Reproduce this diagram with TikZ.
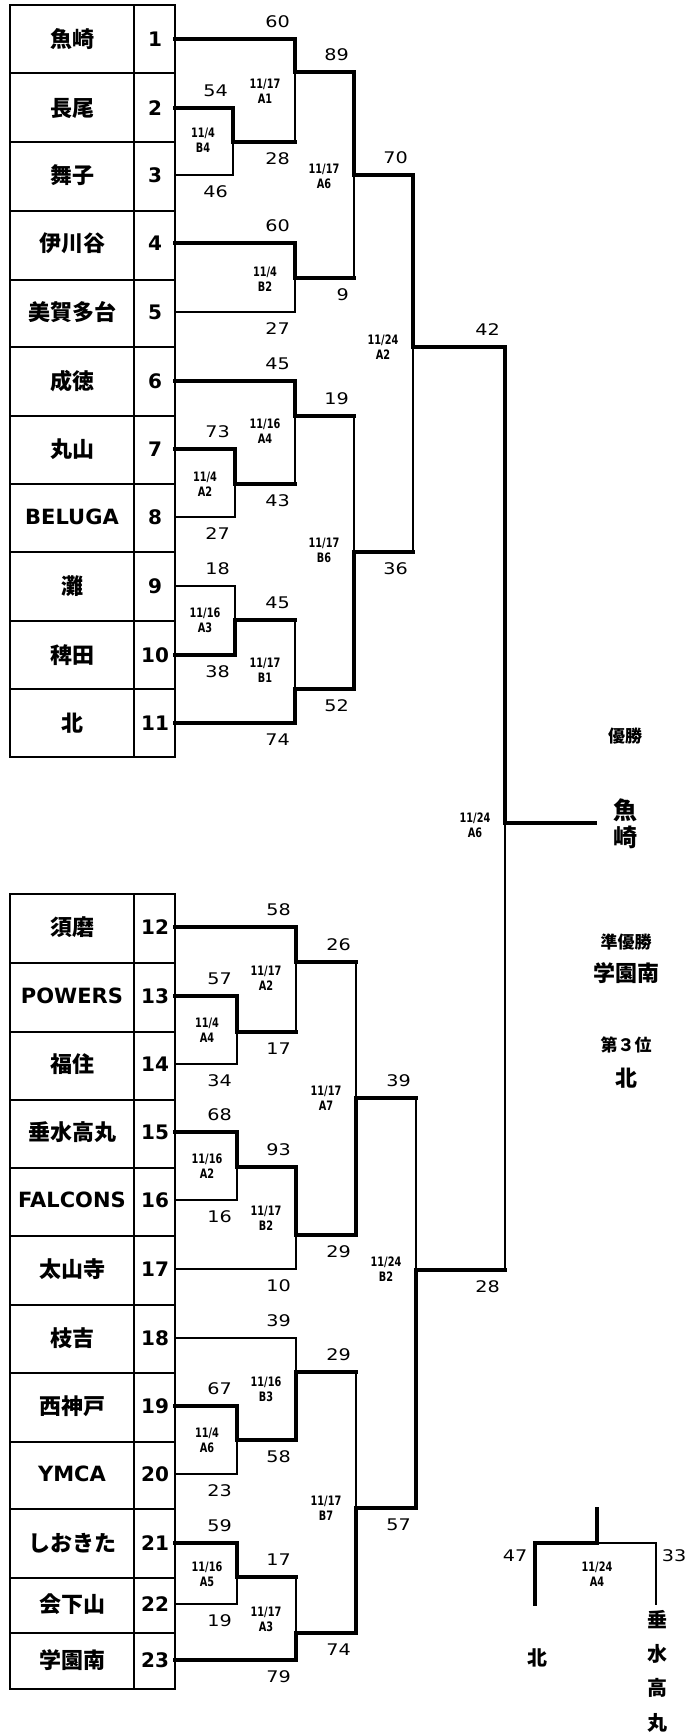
\documentclass[tikz,border=0pt]{standalone}
\usepackage{fontspec}
\usetikzlibrary{calc}
\setmainfont{DejaVu Sans}
\newfontfamily\jp{Noto Sans CJK JP}
\newfontfamily\dv{DejaVu Sans}
\newfontfamily\scorefont{DejaVu Sans}[FakeStretch=1.2]
\newfontfamily\lblfont{DejaVu Sans}[FakeStretch=0.75]
\newcommand\leg[4]{\draw[#3] (#1) -- (#1 -| #2); \draw[#4] (#1 -| #2) -- (#2);}
\newcommand\scoreT[3]{\node[score] (st-#2) at ($(#1 -| #2)+(-5,-17)$) {#3};}
\newcommand\scoreB[3]{\node[score] (sb-#2) at ($(#1 -| #2)+(-5,17)$) {#3};}
\newcommand\mlabel[4]{\node[lbl] (lb-#1) at ($(#1)+(-30,#2)$) {#3\\#4};}
\begin{document}
\begin{tikzpicture}[x=1pt,y=-1pt,
  win/.style={line width=4pt, line cap=rect},
  lose/.style={line width=1.4pt, line cap=rect},
  grid/.style={line width=1.8pt},
  score/.style={font=\scorefont\fontsize{16}{16}\selectfont, anchor=east, inner sep=0pt},
  lbl/.style={font=\lblfont\bfseries\fontsize{13}{15}\selectfont, align=center, inner sep=0pt},
  tname/.style={font=\jp\bfseries\fontsize{22}{22}\selectfont, inner sep=0pt},
  lname/.style={font=\dv\bfseries\fontsize{21}{21}\selectfont, inner sep=0pt},
  tnum/.style={font=\dv\bfseries\fontsize{20}{20}\selectfont, inner sep=0pt},
  rsmall/.style={font=\jp\bfseries\fontsize{17}{17}\selectfont, inner sep=0pt},
  rbig/.style={font=\jp\bfseries\fontsize{22}{22}\selectfont, inner sep=0pt, align=center},
]
\fill[white] (0,0) rectangle (691,1733);
\useasboundingbox (0,0) rectangle (691,1733);

% ---------- tables ----------
\draw[grid] (10,5) rectangle (175,757);
\draw[grid] (134,5) -- (134,757);
\foreach \y in {73,142,211,280,347,416,484,552,621,689} \draw[grid] (10,\y) -- (175,\y);
\draw[grid] (10,894) rectangle (175,1689);
\draw[grid] (134,894) -- (134,1689);
\foreach \y in {963,1032,1100,1168,1236,1305,1373,1442,1509,1578,1633} \draw[grid] (10,\y) -- (175,\y);

\foreach \i/\y/\nm/\st in {1/39/魚崎/tname, 2/108/長尾/tname, 3/175/舞子/tname, 4/243/伊川谷/tname,
  5/312/美賀多台/tname, 6/381/成徳/tname, 7/449/丸山/tname, 8/517/BELUGA/lname, 9/586/灘/tname,
  10/655/稗田/tname, 11/723/北/tname, 12/927/須磨/tname, 13/996/POWERS/lname, 14/1064/福住/tname,
  15/1132/垂水高丸/tname, 16/1200/FALCONS/lname, 17/1269/太山寺/tname, 18/1338/枝吉/tname,
  19/1406/西神戸/tname, 20/1474/YMCA/lname, 21/1543/しおきた/tname, 22/1604/会下山/tname, 23/1660/学園南/tname}
{
  \node[\st] (n\i) at (72,\y) {\nm};
  \node[tnum] (k\i) at (155,\y) {\i};
  \coordinate (t\i) at (175,\y);
}

% ---------- upper half ----------
\coordinate (B4) at (233,142);
\leg{t2}{B4}{win}{win} \leg{t3}{B4}{lose}{lose}
\scoreT{t2}{B4}{54} \scoreB{t3}{B4}{46} \mlabel{B4}{-2}{11/4}{B4}

\coordinate (A1) at (295,72);
\leg{t1}{A1}{win}{win} \leg{B4}{A1}{win}{lose}
\scoreT{t1}{A1}{60} \scoreB{B4}{A1}{28} \mlabel{A1}{19}{11/17}{A1}

\coordinate (B2) at (295,278);
\leg{t4}{B2}{win}{win} \leg{t5}{B2}{lose}{lose}
\scoreT{t4}{B2}{60} \scoreB{t5}{B2}{27} \mlabel{B2}{1}{11/4}{B2}

\coordinate (A6) at (354,175);
\leg{A1}{A6}{win}{win} \leg{B2}{A6}{win}{lose}
\scoreT{A1}{A6}{89} \scoreB{B2}{A6}{9} \mlabel{A6}{1}{11/17}{A6}

\coordinate (A2a) at (235,484);
\leg{t7}{A2a}{win}{win} \leg{t8}{A2a}{lose}{lose}
\scoreT{t7}{A2a}{73} \scoreB{t8}{A2a}{27} \mlabel{A2a}{0}{11/4}{A2}

\coordinate (A4) at (295,416);
\leg{t6}{A4}{win}{win} \leg{A2a}{A4}{win}{lose}
\scoreT{t6}{A4}{45} \scoreB{A2a}{A4}{43} \mlabel{A4}{15}{11/16}{A4}

\coordinate (A3) at (235,620);
\leg{t9}{A3}{lose}{lose} \leg{t10}{A3}{win}{win}
\scoreT{t9}{A3}{18} \scoreB{t10}{A3}{38} \mlabel{A3}{0}{11/16}{A3}

\coordinate (B1) at (295,689);
\leg{A3}{B1}{win}{lose} \leg{t11}{B1}{win}{win}
\scoreT{A3}{B1}{45} \scoreB{t11}{B1}{74} \mlabel{B1}{-19}{11/17}{B1}

\coordinate (B6) at (354,552);
\leg{A4}{B6}{win}{lose} \leg{B1}{B6}{win}{win}
\scoreT{A4}{B6}{19} \scoreB{B1}{B6}{52} \mlabel{B6}{-2}{11/17}{B6}

\coordinate (A2b) at (413,347);
\leg{A6}{A2b}{win}{win} \leg{B6}{A2b}{win}{lose}
\scoreT{A6}{A2b}{70} \scoreB{B6}{A2b}{36} \mlabel{A2b}{0}{11/24}{A2}

% ---------- lower half ----------
\coordinate (A4b) at (237,1032);
\leg{t13}{A4b}{win}{win} \leg{t14}{A4b}{lose}{lose}
\scoreT{t13}{A4b}{57} \scoreB{t14}{A4b}{34} \mlabel{A4b}{-2}{11/4}{A4}

\coordinate (A2c) at (296,962);
\leg{t12}{A2c}{win}{win} \leg{A4b}{A2c}{win}{lose}
\scoreT{t12}{A2c}{58} \scoreB{A4b}{A2c}{17} \mlabel{A2c}{16}{11/17}{A2}

\coordinate (A2d) at (237,1167);
\leg{t15}{A2d}{win}{win} \leg{t16}{A2d}{lose}{lose}
\scoreT{t15}{A2d}{68} \scoreB{t16}{A2d}{16} \mlabel{A2d}{-1}{11/16}{A2}

\coordinate (B2c) at (296,1235);
\leg{A2d}{B2c}{win}{win} \leg{t17}{B2c}{lose}{lose}
\scoreT{A2d}{B2c}{93} \scoreB{t17}{B2c}{10} \mlabel{B2c}{-17}{11/17}{B2}

\coordinate (A7) at (356,1098);
\leg{A2c}{A7}{win}{lose} \leg{B2c}{A7}{win}{win}
\scoreT{A2c}{A7}{26} \scoreB{B2c}{A7}{29} \mlabel{A7}{0}{11/17}{A7}

\coordinate (A6b) at (237,1440);
\leg{t19}{A6b}{win}{win} \leg{t20}{A6b}{lose}{lose}
\scoreT{t19}{A6b}{67} \scoreB{t20}{A6b}{23} \mlabel{A6b}{0}{11/4}{A6}

\coordinate (B3) at (296,1372);
\leg{t18}{B3}{lose}{lose} \leg{A6b}{B3}{win}{win}
\scoreT{t18}{B3}{39} \scoreB{A6b}{B3}{58} \mlabel{B3}{17}{11/16}{B3}

\coordinate (A5) at (237,1577);
\leg{t21}{A5}{win}{win} \leg{t22}{A5}{lose}{lose}
\scoreT{t21}{A5}{59} \scoreB{t22}{A5}{19} \mlabel{A5}{-3}{11/16}{A5}

\coordinate (A3b) at (296,1633);
\leg{A5}{A3b}{win}{lose} \leg{t23}{A3b}{win}{win}
\scoreT{A5}{A3b}{17} \scoreB{t23}{A3b}{79} \mlabel{A3b}{-14}{11/17}{A3}

\coordinate (B7) at (356,1508);
\leg{B3}{B7}{win}{lose} \leg{A3b}{B7}{win}{win}
\scoreT{B3}{B7}{29} \scoreB{A3b}{B7}{74} \mlabel{B7}{0}{11/17}{B7}

\coordinate (B2d) at (416,1270);
\leg{A7}{B2d}{win}{lose} \leg{B7}{B2d}{win}{win}
\scoreT{A7}{B2d}{39} \scoreB{B7}{B2d}{57} \mlabel{B2d}{-1}{11/24}{B2}

% ---------- final ----------
\coordinate (F) at (505,823);
\coordinate (champ) at (595,823);
\leg{A2b}{F}{win}{win} \leg{B2d}{F}{win}{lose}
\draw[win] (F) -- (champ);
\scoreT{A2b}{F}{42} \scoreB{B2d}{F}{28} \mlabel{F}{2}{11/24}{A6}

% ---------- results ----------
\node[rsmall] (r1) at (625,736) {優勝};
\node[rbig, font=\jp\bfseries\fontsize{24}{27}\selectfont] (r2) at (625,824) {魚\\崎};
\node[rsmall] (r3) at (626,942) {準優勝};
\node[rbig] (r4) at (626,973) {学園南};
\node[rsmall] (r5) at (626,1045) {第３位};
\node[rbig] (r6) at (626,1078) {北};

% ---------- 3rd place ----------
\coordinate (tq) at (597,1509);
\coordinate (tm) at (597,1543);
\coordinate (tl) at (535,1604);
\coordinate (tr) at (656,1604);
\draw[lose] (tm) -- (tm -| tr) -- (tr);
\draw[win] (tq) -- (tm) -- (tm -| tl) -- (tl);
\node[score, anchor=center] (s47) at (515,1556) {47};
\node[score, anchor=center] (s33) at (674,1556) {33};
\node[lbl] (lb-3rd) at (597,1574) {11/24\\A4};
\node[rbig, font=\jp\bfseries\fontsize{20}{20}\selectfont] (q1) at (537,1658) {北};
\node[rbig, font=\jp\bfseries\fontsize{20}{34.3}\selectfont] (q2) at (657,1671) {垂\\水\\高\\丸};
\end{tikzpicture}
\end{document}
